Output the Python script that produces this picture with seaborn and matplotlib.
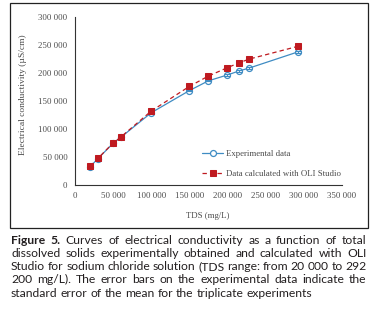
import numpy as np
import pandas as pd
import matplotlib
matplotlib.use('Agg')
import matplotlib.pyplot as plt
import seaborn as sns
from matplotlib.patches import Rectangle
from matplotlib.ticker import FuncFormatter, MultipleLocator

# ── Data ──────────────────────────────────────────────────────────────────────
tds_exp = [20000, 30000, 50000, 60000, 100000, 150000, 175000, 200000, 215000, 229000, 292200]
ec_exp = [33000, 47000, 74500, 85000, 129000, 168500, 186000, 196500, 203500, 209000, 237500]
ec_err = [600, 700, 800, 800, 900, 1000, 1000, 1100, 1100, 1100, 1200]

tds_oli = [20000, 30000, 50000, 60000, 100000, 150000, 175000, 200000, 215000, 229000, 292200]
ec_oli = [33500, 47500, 75000, 85500, 132000, 176000, 194500, 209500, 218000, 225000, 247500]

caption_lines = [
    "Figure 5. Curves of electrical conductivity as a function of total",
    "dissolved solids experimentally obtained and calculated with OLI",
    "Studio for sodium chloride solution (TDS range: from 20 000 to 292",
    "200 mg/L). The error bars on the experimental data indicate the",
    "standard error of the mean for the triplicate experiments",
]

exp_df = pd.DataFrame({'TDS': tds_exp, 'EC': ec_exp})
oli_df = pd.DataFrame({'TDS': tds_oli, 'EC': ec_oli})

BLUE = '#3f8cc3'
RED = '#bf1a20'
TXT = '#4a4a4a'

sns.set_style('white')
plt.rcParams['font.family'] = ['Liberation Serif', 'DejaVu Serif']

W, H = 389, 314
fig = plt.figure(figsize=(W / 100, H / 100), dpi=100)
ax = fig.add_axes([75 / W, 1 - 185 / H, (341.7 - 75) / W, (185 - 17) / H])

sns.lineplot(data=exp_df, x='TDS', y='EC', ax=ax, color=BLUE, lw=0.9,
             marker='o', markersize=4.3, markerfacecolor='white',
             markeredgecolor=BLUE, markeredgewidth=0.9,
             label='Experimental data')
ax.errorbar(tds_exp, ec_exp, yerr=ec_err, fmt='none', ecolor=BLUE,
            elinewidth=0.8, capsize=2.3, capthick=0.8)
sns.lineplot(data=oli_df, x='TDS', y='EC', ax=ax, color=RED, lw=0.9,
             linestyle=(0, (3.5, 2.5)), marker='s', markersize=3.7,
             markerfacecolor=RED, markeredgecolor=RED,
             label='Data calculated with OLI Studio')

ax.set_xlim(0, 350000)
ax.set_ylim(0, 300000)
ax.xaxis.set_major_locator(MultipleLocator(50000))
ax.yaxis.set_major_locator(MultipleLocator(50000))
fmt = FuncFormatter(lambda v, p: f"{int(round(v)):,}".replace(',', ' '))
ax.xaxis.set_major_formatter(fmt)
ax.yaxis.set_major_formatter(fmt)
ax.tick_params(length=0, labelsize=6.3, colors=TXT)
ax.tick_params(axis='x', pad=5)
ax.tick_params(axis='y', pad=5.5)
for s in ['top', 'right']:
    ax.spines[s].set_visible(False)
for s in ['left', 'bottom']:
    ax.spines[s].set_color('#333333')
    ax.spines[s].set_linewidth(0.8)
ax.set_xlabel('')
ax.set_ylabel('')

fig.text(23 / W, 1 - 95 / H, 'Electrical conductivity (µS/cm)', rotation=90,
         ha='center', va='center', fontsize=6.8, color=TXT)
fig.text(208 / W, 1 - 216.5 / H, 'TDS (mg/L)', ha='center', va='center',
         fontsize=6.3, color=TXT)

leg = ax.legend(loc='upper left', bbox_to_anchor=(198 / W, 1 - 146 / H),
                bbox_transform=fig.transFigure, frameon=False, fontsize=6.3,
                borderpad=0, handlelength=2.4, handletextpad=0.35,
                labelspacing=1.3)
for t in leg.get_texts():
    t.set_color(TXT)

# frame around the chart
fig.patches.append(Rectangle((10 / W, 1 - 228 / H), (368 - 10) / W, (228 - 3) / H,
                             transform=fig.transFigure, fill=False,
                             lw=0.9, ec='#222222'))

# ── Caption, justified ─────────────────────────────────────────────────────────
cap_font = ['Lato', 'DejaVu Sans']
cap_size = 8.7
left, right = 11, 366.5
baselines = [243.5, 256.8, 270.1, 283.4, 296.7]
renderer = fig.canvas.get_renderer()
for i, (line, yb) in enumerate(zip(caption_lines, baselines)):
    words = line.split(' ')
    texts = []
    for j, w in enumerate(words):
        bold = (i == 0 and j < 2)
        t = fig.text(0, 1 - yb / H, w, ha='left', va='baseline',
                     fontsize=cap_size, family=cap_font, color='#231f20',
                     fontweight='bold' if bold else 'normal')
        texts.append(t)
    widths = [t.get_window_extent(renderer).width for t in texts]
    if i < len(caption_lines) - 1:
        gap = (right - left - sum(widths)) / (len(words) - 1)
    else:
        gap = cap_size * 100 / 72 * 0.25
    x = left
    for t, w in zip(texts, widths):
        t.set_x(x / W)
        x += w + gap

fig.savefig('out.png', dpi=100)
